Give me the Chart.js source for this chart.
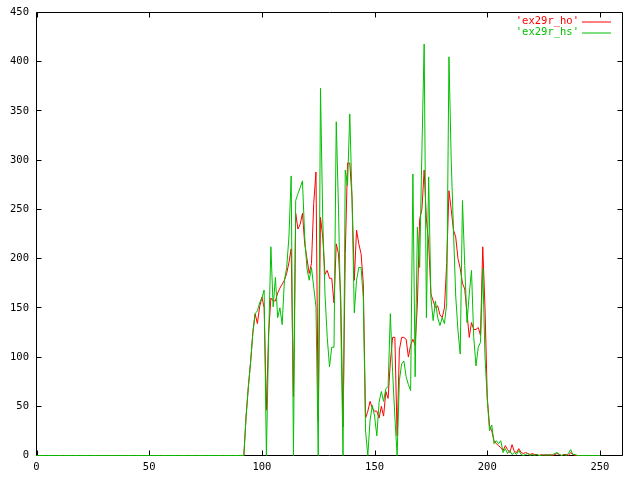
<!DOCTYPE html>
<html>
<head>
<meta charset="utf-8">
<script src="https://cdn.jsdelivr.net/npm/chart.js@4"></script>
<style>
  html, body { margin: 0; padding: 0; background: #ffffff; }
  canvas { display: block; }
</style>
</head>
<body>
<canvas id="histChart" width="640" height="480"></canvas>
<script>
// series values, one per x = 0, 1, 2, ... (index is the x value)
const hoValues = [
    0,0,0,0,0,0,0,0,0,0, 0,0,0,0,0,0,0,0,0,0, 0,0,0,0,0,0,0,0,0,0,
    0,0,0,0,0,0,0,0,0,0, 0,0,0,0,0,0,0,0,0,0, 0,0,0,0,0,0,0,0,0,0,
    0,0,0,0,0,0,0,0,0,0, 0,0,0,0,0,0,0,0,0,0, 0,0,0,0,0,0,0,0,0,0,
    0,0,0,40,70,95,125,144,134,151,
    161,150,46,125,160,157,157,165,170,174,
    178,185,196,210,60,246,230,235,246,215,
    200,185,195,256,288,35,242,222,184,188,
    180,180,155,215,205,160,29,205,297,297,
    262,178,229,215,205,175,38,45,55,48,
    45,45,38,50,40,65,58,95,120,120,
    20,107,120,120,118,100,112,118,112,154,
    240,250,290,240,216,164,157,150,152,143,
    140,150,195,269,250,229,222,200,190,175,
    169,145,120,135,128,128,130,122,212,150,
    59,30,25,15,12,10,8,5,10,6,
    3,11,4,3,7,3,2,3,2,1,
    2,1,1,0,1,0,1,0,1,0,
    1,2,1,0,1,1,0,3,1,0,
    0,0,0,0,0,0,0,0,0,0,0
];
const hsValues = [
    0,0,0,0,0,0,0,0,0,0, 0,0,0,0,0,0,0,0,0,0, 0,0,0,0,0,0,0,0,0,0,
    0,0,0,0,0,0,0,0,0,0, 0,0,0,0,0,0,0,0,0,0, 0,0,0,0,0,0,0,0,0,0,
    0,0,0,0,0,0,0,0,0,0, 0,0,0,0,0,0,0,0,0,0, 0,0,0,0,0,0,0,0,0,0,
    0,0,0,40,70,95,125,144,147,155,
    160,168,0,120,212,151,181,140,150,133,
    178,191,222,284,0,259,266,272,279,222,
    190,178,191,171,151,0,373,240,164,120,
    90,110,110,339,250,140,0,290,274,347,
    260,145,178,191,191,160,25,0,36,51,
    40,20,54,65,55,68,70,144,85,39,
    0,76,93,96,80,72,66,286,80,232,
    191,310,418,140,283,160,137,157,140,132,
    140,134,154,405,300,229,162,127,103,259,
    193,135,164,188,120,91,110,115,190,100,
    57,25,31,12,15,12,15,3,7,2,
    5,1,3,1,5,1,0,1,2,0,
    1,0,1,0,0,1,0,1,0,1,
    2,3,1,0,1,0,2,6,1,1,
    0,0,0,0,0,0,0,0,0,0,0
];
const seriesNames = ["'ex29r_ho'", "'ex29r_hs'"];
const seriesColors = ['#ff0000', '#00c000'];
const xTicks = [0, 50, 100, 150, 200, 250];
const yTicks = [0, 50, 100, 150, 200, 250, 300, 350, 400, 450];

const labelFont = '10.5px "DejaVu Sans Mono"';

function toPoints(values) {
    return values.map((v, i) => ({ x: i, y: v }));
}

// gnuplot style frame with inward ticks on all four sides
const framePlugin = {
    id: 'frame',
    beforeDatasetsDraw(chart) {
        const { ctx, chartArea: a, scales } = chart;
        ctx.save();
        ctx.strokeStyle = '#000000';
        ctx.lineWidth = 1;
        ctx.beginPath();
        ctx.rect(a.left, a.top, a.right - a.left, a.bottom - a.top);
        xTicks.forEach(t => {
            const px = Math.round(scales.x.getPixelForValue(t)) + 0.5;
            ctx.moveTo(px, a.bottom); ctx.lineTo(px, a.bottom - 5);
            ctx.moveTo(px, a.top); ctx.lineTo(px, a.top + 5);
        });
        yTicks.forEach(t => {
            const py = Math.round(scales.y.getPixelForValue(t) - 0.5) + 0.5;
            ctx.moveTo(a.left, py); ctx.lineTo(a.left + 5, py);
            ctx.moveTo(a.right, py); ctx.lineTo(a.right - 5, py);
        });
        ctx.stroke();

        // tick labels
        ctx.fillStyle = '#000000';
        ctx.font = labelFont;
        ctx.textAlign = 'right';
        ctx.textBaseline = 'middle';
        yTicks.forEach(t => {
            ctx.fillText(String(t), 29, scales.y.getPixelForValue(t));
        });
        ctx.textAlign = 'center';
        ctx.textBaseline = 'top';
        xTicks.forEach(t => {
            ctx.fillText(String(t), scales.x.getPixelForValue(t), 462);
        });
        ctx.restore();
    },
    afterDraw(chart) {
        // key in the top right corner: label then line sample
        const { ctx } = chart;
        ctx.save();
        ctx.font = labelFont;
        ctx.textAlign = 'right';
        ctx.textBaseline = 'middle';
        chart.data.datasets.forEach((ds, i) => {
            const y = 21.5 + i * 11;
            ctx.fillStyle = ds.borderColor;
            ctx.fillText(ds.label, 579, y);
            ctx.strokeStyle = ds.borderColor;
            ctx.lineWidth = 1;
            ctx.beginPath();
            ctx.moveTo(582, y + 0.5);
            ctx.lineTo(611, y + 0.5);
            ctx.stroke();
        });
        ctx.restore();
    }
};

const config = {
    type: 'line',
    data: {
        datasets: [
            {
                label: seriesNames[0],
                data: toPoints(hoValues),
                borderColor: seriesColors[0],
                borderWidth: 1,
                pointRadius: 0,
                tension: 0,
                clip: false,
                order: 1
            },
            {
                label: seriesNames[1],
                data: toPoints(hsValues),
                borderColor: seriesColors[1],
                borderWidth: 1,
                pointRadius: 0,
                tension: 0,
                clip: false,
                order: 0
            }
        ]
    },
    options: {
        responsive: false,
        animation: false,
        events: [],
        layout: {
            padding: { top: 12.5, right: 17.5, left: 0, bottom: 0 }
        },
        plugins: {
            legend: { display: false },
            tooltip: { enabled: false }
        },
        scales: {
            x: {
                type: 'linear',
                min: 0,
                max: 260,
                grid: { display: false, drawTicks: false },
                border: { display: false },
                afterBuildTicks: scale => { scale.ticks = xTicks.map(v => ({ value: v })); },
                afterFit: scale => { scale.height = 24.5; },
                ticks: { display: false }
            },
            y: {
                min: 0,
                max: 450,
                grid: { display: false, drawTicks: false },
                border: { display: false },
                afterBuildTicks: scale => { scale.ticks = yTicks.map(v => ({ value: v })); },
                afterFit: scale => { scale.width = 36.5; },
                ticks: { display: false }
            }
        }
    },
    plugins: [framePlugin]
};

new Chart(document.getElementById('histChart').getContext('2d'), config);
</script>
</body>
</html>
